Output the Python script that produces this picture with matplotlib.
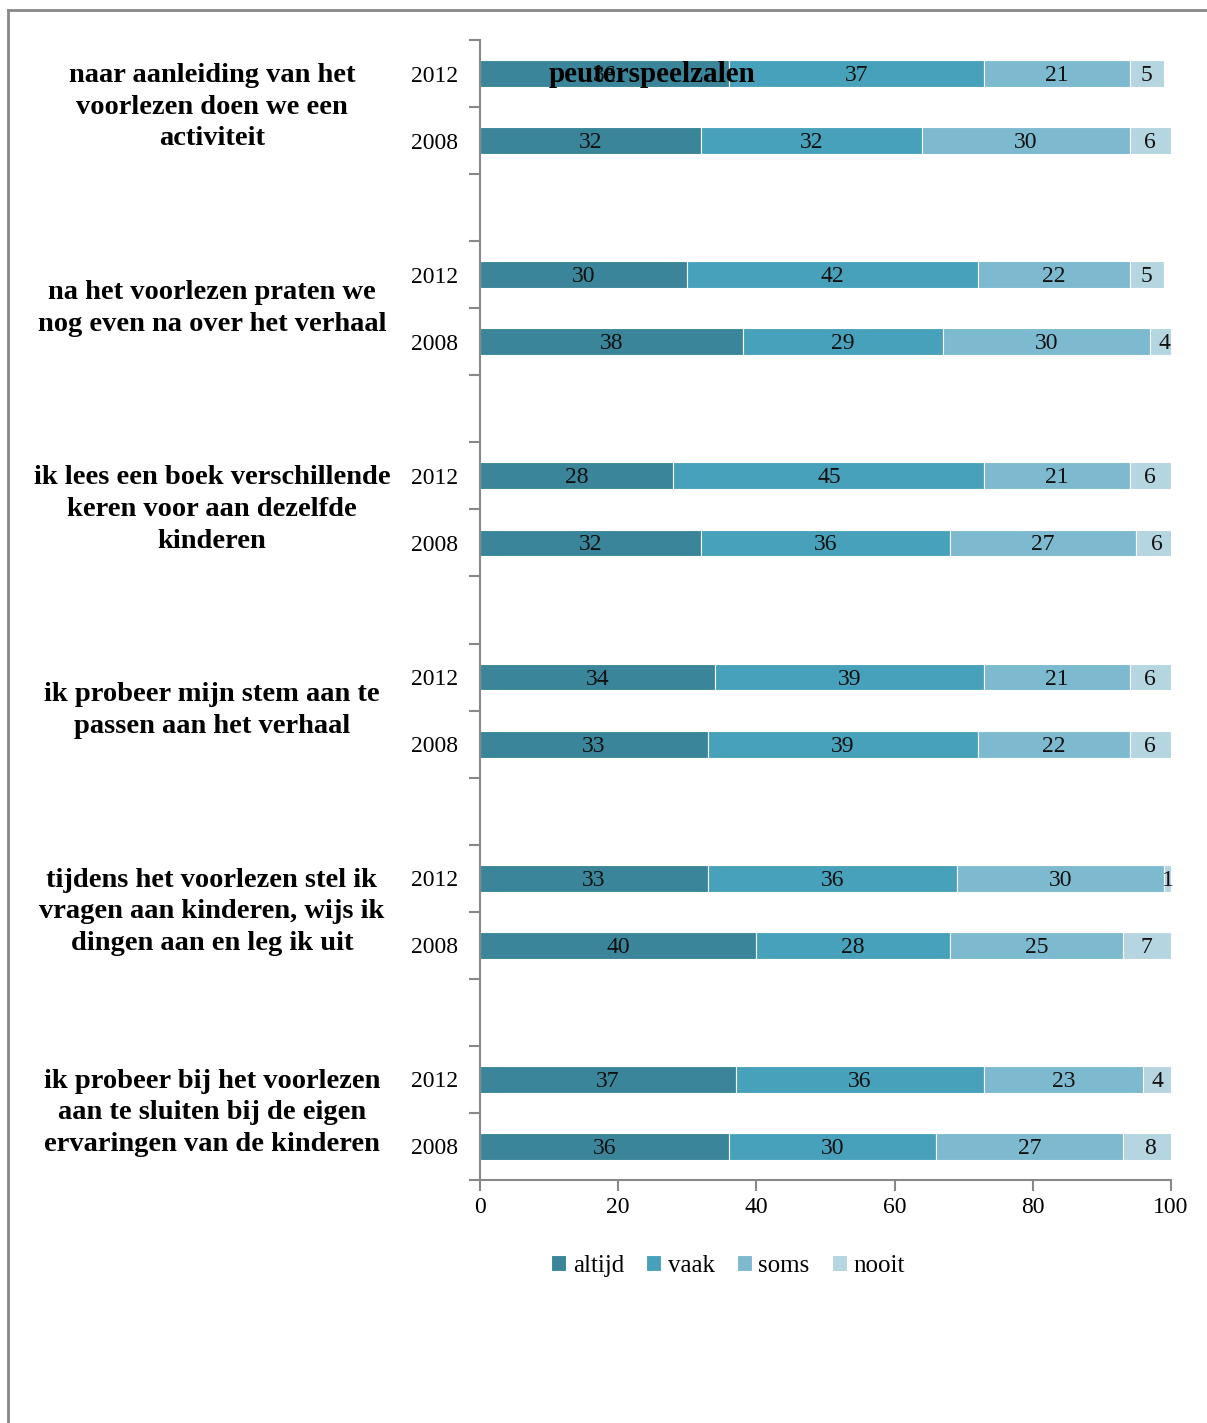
import matplotlib
matplotlib.use("Agg")
import matplotlib.pyplot as plt
from matplotlib.lines import Line2D
import numpy as np

# statements (groups, top to bottom)
statements = [
    "naar aanleiding van het\nvoorlezen doen we een\nactiviteit",
    "na het voorlezen praten we\nnog even na over het verhaal",
    "ik lees een boek verschillende\nkeren voor aan dezelfde\nkinderen",
    "ik probeer mijn stem aan te\npassen aan het verhaal",
    "tijdens het voorlezen stel ik\nvragen aan kinderen, wijs ik\ndingen aan en leg ik uit",
    "ik probeer bij het voorlezen\naan te sluiten bij de eigen\nervaringen van de kinderen",
]
years = ["2012", "2008"]
answers = ["altijd", "vaak", "soms", "nooit"]

# percentages per answer, rows = (statement, year) in order
altijd = [36, 32, 30, 38, 28, 32, 34, 33, 33, 40, 37, 36]
vaak = [37, 32, 42, 29, 45, 36, 39, 39, 36, 28, 36, 30]
soms = [21, 30, 22, 30, 21, 27, 21, 22, 30, 25, 23, 27]
nooit = [5, 6, 5, 4, 6, 6, 6, 6, 1, 7, 4, 8]

colors = ["#3a8599", "#48a1ba", "#7db9cf", "#b5d5e1"]
FONT = "Liberation Serif"
GRAY = "#888888"

fig = plt.figure(figsize=(12.07, 14.23), dpi=100)
ax = fig.add_axes([480 / 1207, 1 - 1180 / 1423, (1171 - 480) / 1207, (1180 - 40) / 1423])

# row positions: 3 slots per group, last group has no trailing blank slot
ypos = []
ylabels = []
for g in range(len(statements)):
    for k, yr in enumerate(years):
        ypos.append(3 * g + 0.5 + k)
        ylabels.append(yr)
ypos = np.array(ypos)

series = [altijd, vaak, soms, nooit]
left = np.zeros(len(ypos))
for vals, col, name in zip(series, colors, answers):
    vals = np.array(vals, dtype=float)
    ax.barh(ypos, vals, left=left, height=0.4, color=col,
            edgecolor="white", linewidth=0.8, label=name)
    for y, l, v in zip(ypos, left, vals):
        ax.text(l + v / 2, y + 0.03, f"{int(v)}", ha="center", va="center",
                fontsize=17, family=FONT, color="#111111")
    left += vals

ax.set_xlim(0, 100)
ax.set_ylim(17, 0)
ax.set_xticks(np.arange(0, 101, 20))
ax.set_xticklabels([str(v) for v in range(0, 101, 20)], family=FONT, fontsize=17)
ax.set_yticks(ypos)
ax.set_yticklabels(ylabels, family=FONT, fontsize=17)
ax.set_yticks(np.arange(0, 18), minor=True)
ax.tick_params(axis="y", which="major", length=0, pad=16)
ax.tick_params(axis="y", which="minor", length=8, color=GRAY, width=1.5)
ax.tick_params(axis="x", length=8, color=GRAY, width=1.5, pad=4)
for s in ["top", "right"]:
    ax.spines[s].set_visible(False)
for s in ["left", "bottom"]:
    ax.spines[s].set_color(GRAY)
    ax.spines[s].set_linewidth(1.5)

# statement labels
for g, txt in enumerate(statements):
    yc = 3 * g + 1.0
    ax.text(-0.388, yc, txt, transform=ax.get_yaxis_transform(),
            ha="center", va="center", fontsize=20.5, fontweight="bold",
            family=FONT, linespacing=1.35)

# overlapping title as in the original
fig.text(652 / 1207, 1 - 75 / 1423, "peuterspeelzalen", ha="center", va="center",
         fontsize=21, fontweight="bold", family=FONT)

fig.legend(loc="center", bbox_to_anchor=(728 / 1207, 1 - 1266 / 1423), ncol=4,
           frameon=False, prop={"family": FONT, "size": 18}, handlelength=0.6,
           handleheight=0.6, handletextpad=0.25, columnspacing=0.9)

# outer frame (left and top edges visible)
fig.add_artist(Line2D([8 / 1207, 8 / 1207], [0, 1 - 10 / 1423], color=GRAY, lw=2,
                      transform=fig.transFigure))
fig.add_artist(Line2D([8 / 1207, 1], [1 - 10 / 1423, 1 - 10 / 1423], color=GRAY, lw=2,
                      transform=fig.transFigure))

fig.savefig("out.png", dpi=100)
